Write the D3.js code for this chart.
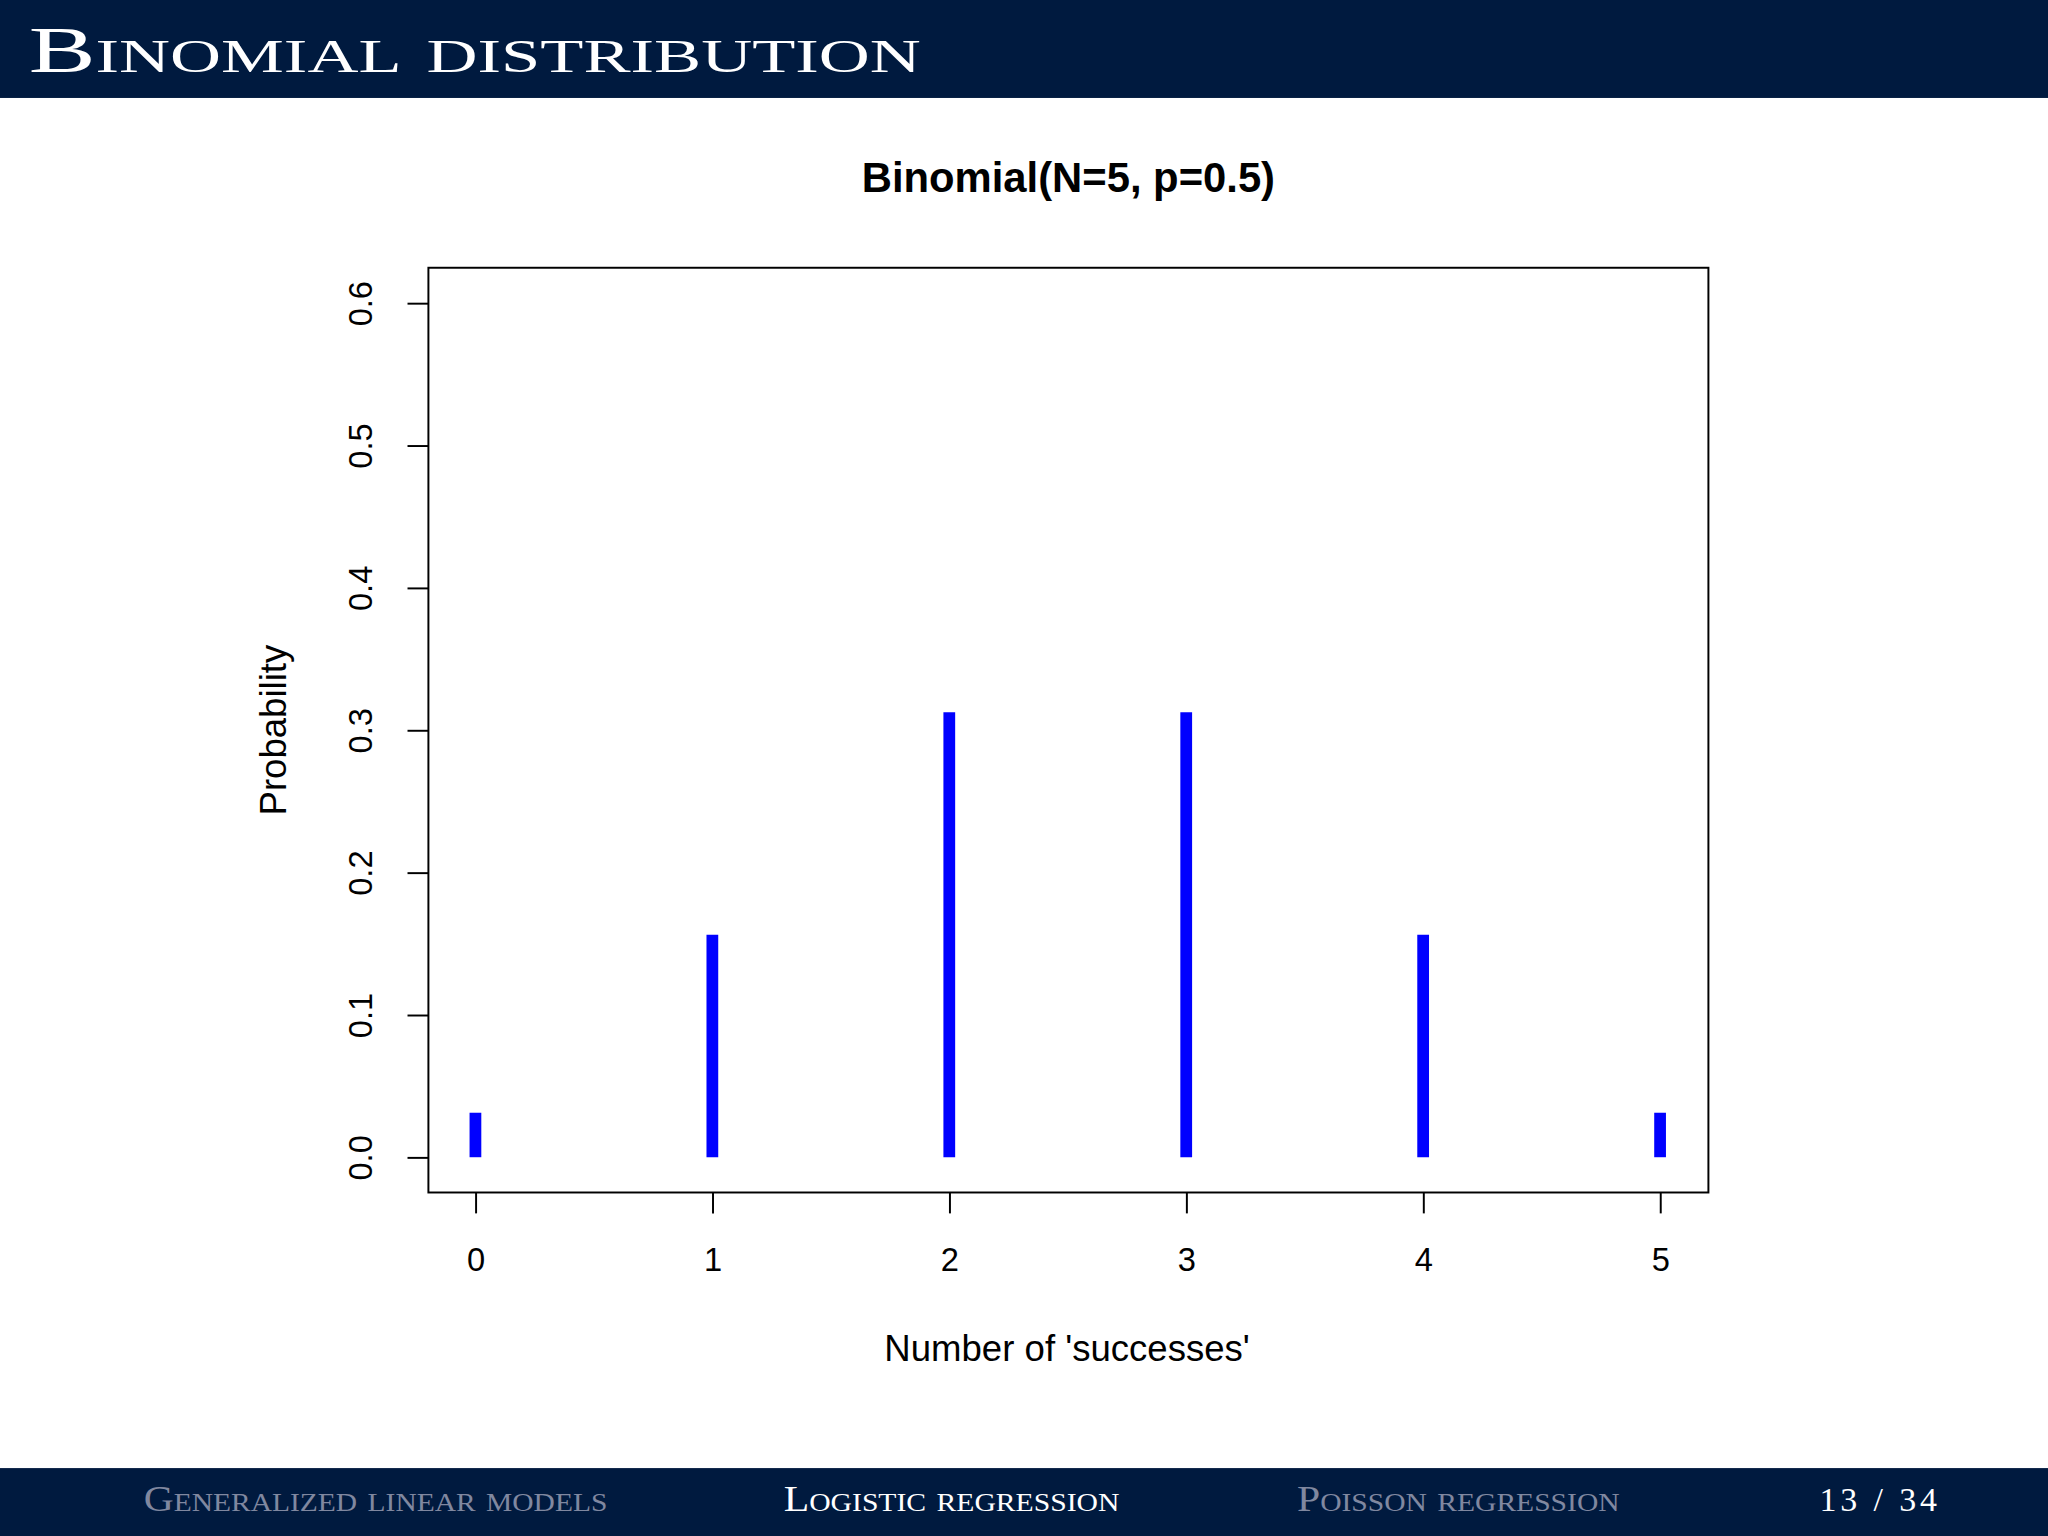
<!DOCTYPE html>
<html>
<head>
<meta charset="utf-8">
<script src="https://cdn.jsdelivr.net/npm/d3@7"></script>
<style>
  body { margin: 0; background: #fff; }
  .axis text { font-family: "Liberation Sans", Arial, sans-serif; font-size: 25px; fill: #000; }
  .axis path, .axis line { stroke: #000; stroke-width: 1.5; }
</style>
</head>
<body>
<div id="chart"></div>
<script>
// data
let successes = [0, 1, 2, 3, 4, 5];
let probabilities = [0.03125, 0.15625, 0.3125, 0.3125, 0.15625, 0.03125];
let yTicks = [0.0, 0.1, 0.2, 0.3, 0.4, 0.5, 0.6];
let footerItems = ["Generalized linear models", "Logistic regression", "Poisson regression"];

let W = 1568, H = 1176;
let svg = d3.select("#chart").append("svg")
    .attr("width", 2048).attr("height", 1536)
    .attr("viewBox", "0 0 " + W + " " + H);

let serif = "'Liberation Serif', 'DejaVu Serif', serif";

// header & footer bars
svg.append("rect").attr("x", 0).attr("y", 0).attr("width", W).attr("height", 75).attr("fill", "#001a3f");
svg.append("text").attr("x", 22).attr("y", 55)
    .attr("fill", "#fff")
    .attr("textLength", 683).attr("lengthAdjust", "spacingAndGlyphs")
    .style("font-family", serif)
    .style("font-size", "50px").style("font-variant", "small-caps")
    .text("Binomial distribution");

svg.append("rect").attr("x", 0).attr("y", 1124).attr("width", W).attr("height", 52).attr("fill", "#001a3f");
let footX = [110, 600, 993];
let footLen = [355, 257, 247];
footerItems.forEach((t, i) => {
    svg.append("text").attr("x", footX[i]).attr("y", 1157)
        .attr("fill", i === 1 ? "#fff" : "#8088a0")
        .attr("textLength", footLen[i]).attr("lengthAdjust", "spacingAndGlyphs")
        .style("font-family", serif)
        .style("font-size", "27px").style("font-variant", "small-caps")
        .text(t);
});
svg.append("text").attr("x", 1393).attr("y", 1157)
    .attr("fill", "#fff")
    .attr("textLength", 90).attr("lengthAdjust", "spacing")
    .style("font-family", serif).style("font-size", "26px")
    .text("13 / 34");

// plot region
let box = {left: 328, right: 1308, top: 205, bottom: 913};
let x = d3.scaleLinear().domain([0, 5]).range([364, 1271]);
let y = d3.scaleLinear().domain([0, 0.6]).range([886, 232]);

svg.append("rect")
    .attr("x", box.left).attr("y", box.top)
    .attr("width", box.right - box.left).attr("height", box.bottom - box.top)
    .attr("fill", "none").attr("stroke", "#000").attr("stroke-width", 1.5);

svg.selectAll(".bar").data(successes).enter().append("line")
    .attr("class", "bar")
    .attr("x1", d => x(d)).attr("x2", d => x(d))
    .attr("y1", y(0)).attr("y2", (d, i) => y(probabilities[i]))
    .attr("stroke", "#0000ff").attr("stroke-width", 9);

let xAxis = svg.append("g").attr("class", "axis")
    .attr("transform", "translate(0," + box.bottom + ")")
    .call(d3.axisBottom(x).tickValues(successes).tickSize(16).tickPadding(26).tickFormat(d3.format("d")));
xAxis.select(".domain").remove();

let yAxis = svg.append("g").attr("class", "axis")
    .attr("transform", "translate(" + box.left + ",0)")
    .call(d3.axisLeft(y).tickValues(yTicks).tickSize(16).tickFormat(d3.format(".1f")));
yAxis.select(".domain").remove();
yAxis.selectAll(".tick text")
    .attr("x", 0).attr("dy", 0).attr("y", 0)
    .attr("text-anchor", "middle").attr("dominant-baseline", "middle")
    .attr("transform", "translate(-50,0) rotate(-90)");

// titles
let sans = "'Liberation Sans', Arial, sans-serif";
svg.append("text").attr("x", 818).attr("y", 147).attr("text-anchor", "middle")
    .style("font-family", sans).style("font-size", "32px").style("font-weight", "bold")
    .text("Binomial(N=5, p=0.5)");
svg.append("text").attr("x", 817).attr("y", 1042).attr("text-anchor", "middle")
    .style("font-family", sans).style("font-size", "28px")
    .text("Number of 'successes'");
svg.append("text").attr("transform", "translate(219,559) rotate(-90)").attr("text-anchor", "middle")
    .style("font-family", sans).style("font-size", "28px")
    .text("Probability");
</script>
</body>
</html>
